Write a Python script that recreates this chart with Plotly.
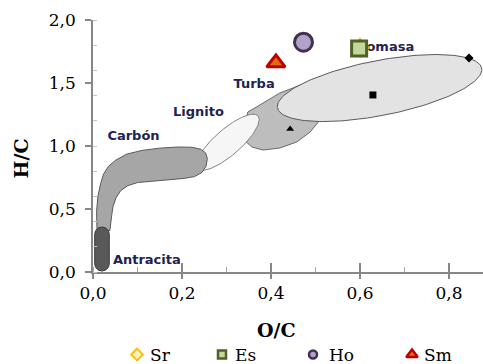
import numpy as np
import plotly.graph_objects as go

# ---------------- data ----------------
# Samples (O/C, H/C)
SR_X, SR_Y = [0.600], [1.780]
ES_X, ES_Y = [0.598], [1.774]
HO_X, HO_Y = [0.473], [1.824]
SM_X, SM_Y = [0.411], [1.660]

# Reference centres of the fuel regions
CENTRE_X = [0.845, 0.629, 0.443]
CENTRE_Y = [1.698, 1.405, 1.135]
CENTRE_SYMBOL = ["diamond", "square", "triangle-up"]

# Region labels
REGION_LABELS = ["Antracita", "Carbón", "Lignito", "Turba", "Biomasa"]
REGION_LABEL_X = [0.121, 0.091, 0.237, 0.362, 0.652]
REGION_LABEL_Y = [0.087, 1.071, 1.266, 1.484, 1.782]

# Region outlines (O/C, H/C)
CARBON_X = [0.009, 0.008, 0.011, 0.017, 0.024, 0.035, 0.050, 0.075, 0.110, 0.150,
            0.190, 0.222, 0.242, 0.253, 0.257, 0.254, 0.245, 0.228, 0.205, 0.170,
            0.130, 0.100, 0.078, 0.062, 0.052, 0.045, 0.042, 0.040, 0.038]
CARBON_Y = [0.330, 0.480, 0.600, 0.700, 0.780, 0.840, 0.885, 0.935, 0.965, 0.983,
            0.992, 0.990, 0.975, 0.945, 0.900, 0.840, 0.790, 0.757, 0.743, 0.732,
            0.722, 0.710, 0.685, 0.645, 0.590, 0.520, 0.450, 0.380, 0.330]

TURBA_X = [0.337, 0.348, 0.371, 0.420, 0.449, 0.510, 0.544, 0.566, 0.555, 0.517,
           0.510, 0.488, 0.458, 0.420, 0.382, 0.357, 0.342]
TURBA_Y = [1.111, 1.270, 1.317, 1.421, 1.460, 1.548, 1.540, 1.460, 1.365, 1.246,
           1.206, 1.111, 1.032, 0.984, 0.968, 0.992, 1.040]

# Ellipse regions: centre (O/C, H/C), semi-axes (px), tilt (deg)
LIGNITO_C = [0.303, 1.030]
LIGNITO_AX = [40, 13, 41]
BIOMASA_C = [0.644, 1.460]
BIOMASA_AX = [104, 27.5, 11]

# Antracita capsule: centre O/C, H/C bottom, H/C top, half width (px)
ANTRACITA = [0.0202, 0.008, 0.357, 7.3]

LEG_NAMES = ["Sr", "Es", "Ho", "Sm"]

# ---------------- layout geometry ----------------
W, H = 483, 364
PLOT_L, PLOT_T, PLOT_B = 93, 20, 272   # pixel edges of plotting area
X_MAX = 0.8764
Y_MAX = 2.0
PX_X = (W - PLOT_L) / X_MAX
PX_Y = (PLOT_B - PLOT_T) / Y_MAX


def ellipse(c, ax, n=160):
    a, b, ang = ax
    t = np.linspace(0, 2 * np.pi, n)
    th = np.radians(ang)
    dx = a * np.cos(t) * np.cos(th) - b * np.sin(t) * np.sin(th)
    dy = a * np.cos(t) * np.sin(th) + b * np.sin(t) * np.cos(th)
    return c[0] + dx / PX_X, c[1] + dy / PX_Y


def capsule(p, n=30):
    xc, y0, y1, hw = p
    r_y = hw / PX_Y
    t_top = np.linspace(0, np.pi, n)
    t_bot = np.linspace(np.pi, 2 * np.pi, n)
    xs = np.concatenate([xc + hw * np.cos(t_top) / PX_X, xc + hw * np.cos(t_bot) / PX_X])
    ys = np.concatenate([y1 - r_y + r_y * np.sin(t_top), y0 + r_y + r_y * np.sin(t_bot)])
    return np.append(xs, xs[0]), np.append(ys, ys[0])


fig = go.Figure()


def region(x, y, fill, line):
    fig.add_trace(go.Scatter(x=list(x), y=list(y), mode="lines", fill="toself",
                             fillcolor=fill, line=dict(color=line, width=1),
                             hoverinfo="skip", showlegend=False))


region(TURBA_X + TURBA_X[:1], TURBA_Y + TURBA_Y[:1], "#bdbdbd", "#6a6a6a")
bx, by = ellipse(BIOMASA_C, BIOMASA_AX)
region(bx, by, "#e3e3e3", "#5a5a5a")
lx, ly = ellipse(LIGNITO_C, LIGNITO_AX)
region(lx, ly, "#f6f6f6", "#858585")
region(CARBON_X + CARBON_X[:1], CARBON_Y + CARBON_Y[:1], "#a6a6a6", "#5a5a5a")
ax_, ay_ = capsule(ANTRACITA)
region(ax_, ay_, "#595959", "#3a3a3a")

fig.add_trace(go.Scatter(x=REGION_LABEL_X, y=REGION_LABEL_Y, mode="text",
                         text=REGION_LABELS, textposition="middle center",
                         textfont=dict(family="DejaVu Sans", size=13, color="#1f2352",
                                       weight="bold"),
                         hoverinfo="skip", showlegend=False))

fig.add_trace(go.Scatter(x=CENTRE_X, y=CENTRE_Y, mode="markers",
                         marker=dict(symbol=CENTRE_SYMBOL, size=7, color="black"),
                         showlegend=False, hoverinfo="skip"))

STY = {
    "Sr": dict(symbol="diamond", color="#fff2cc", line="#ffc000", lw=2.5),
    "Es": dict(symbol="square", color="#c3d69b", line="#4f6228", lw=3),
    "Ho": dict(symbol="circle", color="#b3a2c7", line="#403151", lw=3),
    "Sm": dict(symbol="triangle-up", color="#e36c09", line="#c00000", lw=3),
}
PLOT_SIZE = {"Sr": 13, "Es": 15, "Ho": 18, "Sm": 16}
LEG_SIZE = {"Sr": 9, "Es": 8, "Ho": 8, "Sm": 10}
LEG_LW = {"Sr": 2, "Es": 2.5, "Ho": 2.5, "Sm": 2.5}
DATA = {"Sr": (SR_X, SR_Y), "Es": (ES_X, ES_Y), "Ho": (HO_X, HO_Y), "Sm": (SM_X, SM_Y)}

for nm in LEG_NAMES:
    s = STY[nm]
    fig.add_trace(go.Scatter(x=DATA[nm][0], y=DATA[nm][1], mode="markers", name=nm,
                             marker=dict(symbol=s["symbol"], size=PLOT_SIZE[nm], color=s["color"],
                                         line=dict(color=s["line"], width=s["lw"])),
                             showlegend=False))

# manual legend in a strip below the axes (pixel x units)
LEG_MARK_PX = [137, 222, 313, 412]
LEG_TEXT_PX = [148, 233, 327, 422]
for i, nm in enumerate(LEG_NAMES):
    s = STY[nm]
    fig.add_trace(go.Scatter(x=[LEG_MARK_PX[i]], y=[0.5], xaxis="x3", yaxis="y3",
                             mode="markers", name=nm, showlegend=False, hoverinfo="skip",
                             marker=dict(symbol=s["symbol"], size=LEG_SIZE[nm], color=s["color"],
                                         line=dict(color=s["line"], width=LEG_LW[nm]))))
    fig.add_annotation(x=LEG_TEXT_PX[i], y=0.5, xref="x3", yref="y3", text=nm,
                       showarrow=False, xanchor="left", yanchor="middle",
                       font=dict(family="DejaVu Serif", size=17, color="black"))

# dummy trace for the inner half of crossing ticks
fig.add_trace(go.Scatter(x=[], y=[], xaxis="x2", yaxis="y", showlegend=False))

AX_COL = "#878787"
fig.update_layout(
    template="none",
    width=W, height=H, margin=dict(l=0, r=0, t=0, b=0, pad=0),
    paper_bgcolor="white", plot_bgcolor="rgba(0,0,0,0)",
    separators=",.", showlegend=False,
    font=dict(family="DejaVu Serif", size=17, color="black"),
    xaxis=dict(domain=[PLOT_L / W, 1], range=[0, X_MAX], tickmode="linear", tick0=0, dtick=0.2,
               tickformat=".1f", showline=True, linecolor=AX_COL, linewidth=1.5,
               ticks="outside", ticklen=5, tickwidth=1.5, tickcolor=AX_COL, automargin=False,
               showgrid=False, zeroline=False, anchor="y",
               minor=dict(tickmode="linear", tick0=0, dtick=0.1, ticks="inside", ticklen=5,
                          tickwidth=1.2, tickcolor="#a8a8a8")),
    xaxis2=dict(overlaying="x", matches="x", anchor="y", side="bottom", tickmode="linear",
                tick0=0, dtick=0.2, ticks="inside", ticklen=9, tickwidth=1.5, tickcolor=AX_COL,
                showticklabels=False, showline=False, showgrid=False, zeroline=False,
                automargin=False),
    yaxis=dict(domain=[(H - PLOT_B) / H, (H - PLOT_T) / H], range=[0, Y_MAX], tickmode="linear",
               tick0=0, dtick=0.5, tickformat=".1f", showline=True, linecolor=AX_COL,
               linewidth=1.5, ticks="outside", ticklen=6, tickwidth=1.5, tickcolor=AX_COL,
               showgrid=False, zeroline=False, anchor="x", ticklabelstandoff=6, automargin=False,
               minor=dict(tickmode="linear", tick0=0, dtick=0.2, ticks="inside", ticklen=4,
                          tickwidth=1.2, tickcolor="#b8c8dc")),
    xaxis3=dict(domain=[0, 1], range=[0, W], visible=False, anchor="y3", automargin=False),
    yaxis3=dict(domain=[0, 19 / H], range=[0, 1], visible=False, anchor="x3", automargin=False),
)

# axis titles
fig.add_annotation(x=(276 - PLOT_L) / (W - PLOT_L), y=-(330 - PLOT_B) / (PLOT_B - PLOT_T),
                   xref="x domain", yref="y domain", text="<b>O/C</b>", showarrow=False,
                   xanchor="center", yanchor="middle",
                   font=dict(family="DejaVu Serif", size=19, color="black"))
fig.add_annotation(x=-(PLOT_L - 20.5) / (W - PLOT_L), y=(PLOT_B - 159) / (PLOT_B - PLOT_T),
                   xref="x domain", yref="y domain", text="<b>H/C</b>", showarrow=False,
                   textangle=-90, xanchor="center", yanchor="middle",
                   font=dict(family="DejaVu Serif", size=19, color="black"))

fig.write_html("out.html")
